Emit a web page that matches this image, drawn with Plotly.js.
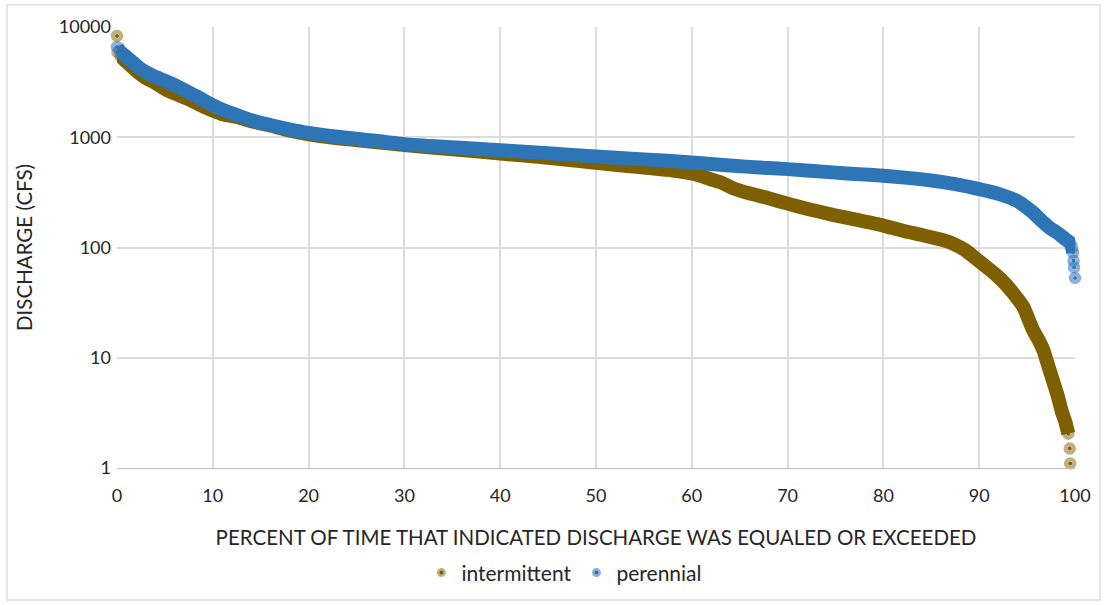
<!DOCTYPE html>
<html>
<head>
<meta charset="utf-8">
<script src="https://cdn.plot.ly/plotly-3.0.1.min.js"></script>
<style>html,body{margin:0;padding:0;background:#fff;}#chart{width:1107px;height:605px;}</style>
</head>
<body>
<div id="chart"></div>
<script>
// Percent of time exceeded (x) and discharge in cfs (y)
const intermittentPct = [0, 0.05, 0.4, 0.8, 1.5, 2.2, 3, 3.9, 5, 5.7, 7.4, 8.5, 10, 11, 12.6, 14, 16.1, 18, 20, 23, 25.9, 30, 35, 40, 45, 50, 55, 58, 60, 61, 62, 63, 64.3, 66, 68, 70, 72, 74.7, 77, 80, 82, 84, 86, 87.3, 88.5, 90, 91, 91.8, 92.7, 93.5, 94.6, 95.6, 96.2, 96.7, 97.2, 97.7, 98.2, 98.6, 99.0, 99.3, 99.45, 99.5];
const intermittentCfs = [8300, 5900, 5400, 5000, 4400, 3880, 3450, 3150, 2750, 2560, 2225, 2000, 1743, 1620, 1518, 1400, 1273, 1150, 1060, 980, 925, 848, 780, 713, 650, 587, 530, 500, 470, 445, 415, 390, 345, 310, 280, 250, 225, 198, 180, 158, 142, 130, 118, 108, 95, 75, 64, 56, 47, 39, 29, 18, 14.5, 11.7, 8.5, 6.2, 4.5, 3.3, 2.6, 2.05, 1.5, 1.1];

const perennialPct = [0, 0.3, 0.8, 1.5, 2.2, 3, 3.9, 5, 5.7, 7.4, 8.5, 10, 11, 12.6, 14, 16.1, 18, 20, 23, 25.9, 30, 35, 40, 45, 50, 55, 60, 62.9, 64.3, 67, 70, 74.7, 77, 80, 82.5, 85.2, 87.5, 90, 92.1, 93.9, 95.6, 96.5, 97.3, 98.2, 99.0, 99.5, 99.7, 99.8, 99.85, 99.9, 100];
const perennialCfs = [6600, 6000, 5540, 4900, 4340, 3900, 3570, 3250, 3060, 2575, 2300, 1950, 1780, 1580, 1430, 1285, 1180, 1094, 1010, 950, 866, 812, 764, 715, 670, 630, 591, 563, 552, 532, 514, 480, 465, 448, 428, 403, 375, 338, 305, 266, 208, 175, 152, 135, 119, 110, 100, 90, 76, 66, 53];

const seriesNames = ['intermittent', 'perennial'];
const xTickVals = [0, 10, 20, 30, 40, 50, 60, 70, 80, 90, 100];
const yTickVals = [1, 10, 100, 1000, 10000];
const yTickText = ['1', '10', '100', '1000', '10000'];

const FONT = 'Lato, "Open Sans", sans-serif';
const TXT = '#262626';
const brown = '#7f6000', brownHalo = 'rgba(127,96,0,0.5)';
const blue = '#2e75b6', blueHalo = 'rgba(46,117,182,0.55)';

function bodyTrace(x, y, color) {
  return {x: x, y: y, type: 'scatter', mode: 'lines', showlegend: false, hoverinfo: 'skip',
          line: {color: color, width: 14, shape: 'spline', smoothing: 0.6}};
}
function pointTrace(name, x, y, color, halo) {
  return {x: x, y: y, name: name, type: 'scatter', mode: 'markers', cliponaxis: false,
          marker: {size: 4, color: color, line: {width: 8.5, color: halo}}};
}

const data = [
  bodyTrace(intermittentPct.slice(1, -2), intermittentCfs.slice(1, -2), brown),
  pointTrace(seriesNames[0], intermittentPct, intermittentCfs, brown, brownHalo),
  bodyTrace(perennialPct.slice(0, -3), perennialCfs.slice(0, -3), blue),
  pointTrace(seriesNames[1], perennialPct, perennialCfs, blue, blueHalo)
];

const layout = {
  width: 1107, height: 605,
  margin: {l: 117, r: 32, t: 27, b: 137},
  paper_bgcolor: '#fff', plot_bgcolor: '#fff',
  font: {family: FONT, size: 18, color: TXT},
  xaxis: {
    range: [0, 100], tickvals: xTickVals, ticks: '', ticklabelstandoff: 11,
    showgrid: true, gridcolor: '#dcdcdc', gridwidth: 2,
    showline: true, linecolor: '#bfbfbf', linewidth: 1, zeroline: false,
    tickfont: {family: FONT, size: 18, color: TXT},
    title: {text: 'PERCENT OF TIME THAT INDICATED DISCHARGE WAS EQUALED OR EXCEEDED',
            font: {family: FONT, size: 20.5, color: TXT}, standoff: 26}
  },
  yaxis: {
    type: 'log', range: [0, 4], tickvals: yTickVals, ticktext: yTickText, ticks: '',
    ticklabelstandoff: 5,
    showgrid: true, gridcolor: '#dcdcdc', gridwidth: 2,
    showline: false, zeroline: false,
    tickfont: {family: FONT, size: 18, color: TXT},
    title: {text: 'DISCHARGE (CFS)', font: {family: FONT, size: 20.5, color: TXT}, standoff: 20}
  },
  legend: {orientation: 'h', x: 0.467, xanchor: 'center', y: -0.238, yanchor: 'middle',
           font: {family: FONT, size: 21, color: TXT}, bgcolor: 'rgba(0,0,0,0)', itemwidth: 30},
  shapes: [{type: 'rect', xref: 'paper', yref: 'paper', x0: -0.1148, x1: 1.0261, y0: -0.2993, y1: 1.05,
            line: {color: '#d9d9d9', width: 1.3}, layer: 'below'}],
  showlegend: true
};

Plotly.newPlot('chart', data, layout, {displayModeBar: false, staticPlot: true});
</script>
</body>
</html>
